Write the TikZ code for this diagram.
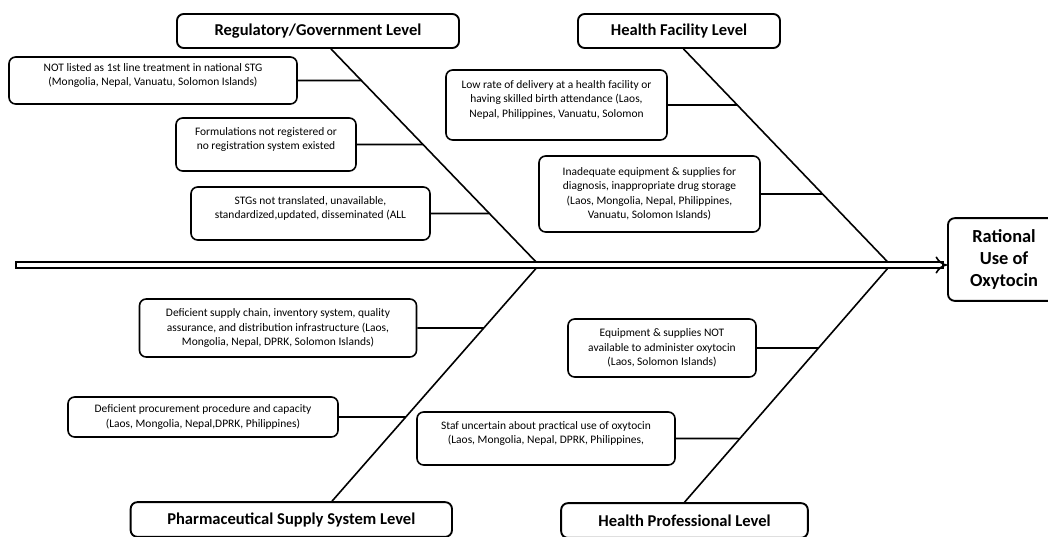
\documentclass[tikz,border=0pt]{standalone}
\usepackage{fontspec}
\setmainfont{Carlito}
\usetikzlibrary{arrows.meta}
\newcommand{\twig}[2]{
\draw[bone] (#1.east) -- (intersection of #1.east--#1.west and #2);
}
\newcommand{\lift}{\rule[-9pt]{0pt}{9pt}}

\begin{document}
\begin{tikzpicture}[x=0.75pt,y=-0.75pt,
	level/.style={draw,line width=1.4pt,rounded corners=5pt,minimum height=25.5pt,font=\bfseries\fontsize{12.4}{15}\selectfont},
	cause/.style={draw,line width=1.2pt,rounded corners=5pt,align=center,font=\fontsize{8.6}{10.8}\selectfont},
	bone/.style={line width=1.2pt},
	spine/.style={double,double distance=3.2pt,line width=1.2pt,line cap=rect,-{Implies[scale=2]}}]
			\useasboundingbox (0,0) rectangle (1048,536);
			
			\node[level,minimum width=211.5pt] (reg) at (318,31) {Regulatory/Government Level};
			\node[level,minimum width=151.5pt] (hfac) at (679,31) {Health Facility Level};
			\node[level,minimum width=241pt,minimum height=26pt] (pharm) at (291.3,519.5) {Pharmaceutical Supply System Level};
			\node[level,minimum width=185pt,minimum height=26pt] (hprof) at (684.5,520.5) {Health Professional Level};
			\node[draw,line width=1.4pt,rounded corners=5pt,align=center,minimum width=84pt,minimum height=62pt,
				font=\bfseries\fontsize{13.8}{16.5}\selectfont] (out) at (1004,259.5) {Rational\\Use of\\Oxytocin};
			
			\node[cause,minimum width=216pt,minimum height=35.25pt] (c1) at (153,80.5) {NOT listed as 1st line treatment in national STG\\(Mongolia, Nepal, Vanuatu, Solomon Islands)\lift};
			\node[cause,minimum width=135pt,minimum height=39.75pt] (c2) at (266,144.5) {Formulations not registered or\\no registration system existed\lift};
			\node[cause,minimum width=179.25pt,minimum height=39.75pt] (c3) at (310.5,213.5) {STGs not translated, unavailable,\\standardized,updated, disseminated (ALL\lift};
			\node[cause,minimum width=165.75pt,minimum height=52.5pt] (c4) at (556.5,105) {Low rate of delivery at a health facility or\\having skilled birth attendance (Laos,\\Nepal, Philippines, Vanuatu, Solomon\lift};
			\node[cause,minimum width=165.75pt,minimum height=57pt] (c5) at (649.5,194) {Inadequate equipment \& supplies for\\diagnosis, inappropriate drug storage\\(Laos, Mongolia, Nepal, Philippines,\\Vanuatu, Solomon Islands)};
			\node[cause,minimum width=207.75pt,minimum height=43.5pt] (c6) at (278,328) {Deficient supply chain, inventory system, quality\\assurance, and distribution infrastructure (Laos,\\Mongolia, Nepal, DPRK, Solomon Islands)};
			\node[cause,minimum width=202.5pt,minimum height=30pt] (c7) at (203,417) {Deficient procurement procedure and capacity\\(Laos, Mongolia, Nepal,DPRK, Philippines)};
			\node[cause,minimum width=141pt,minimum height=43.5pt] (c8) at (662,348) {Equipment \& supplies NOT\\available to administer oxytocin\\(Laos, Solomon Islands)};
			\node[cause,minimum width=193.5pt,minimum height=39.75pt] (c9) at (546,438.5) {Staf uncertain about practical use of oxytocin\\(Laos, Mongolia, Nepal, DPRK, Philippines,\lift};
			
			\coordinate (tail) at (19,265);
			\coordinate (j1) at (539,265);
			\coordinate (j2) at (890.6,265);
			\coordinate (regb) at ([xshift=9.75pt]reg.south);
			\coordinate (hfacb) at ([xshift=3.4pt]hfac.south);
			\coordinate (pharmb) at ([xshift=30.5pt]pharm.north);
			\coordinate (hprofb) at (hprof.north);
			
			\draw[bone] (regb) -- (j1) -- (pharmb);
			\draw[bone] (hfacb) -- (j2) -- (hprofb);
			\draw[spine] (tail) -- (tail -| out.west);
			
			\twig{c1}{regb--j1}
			\twig{c2}{regb--j1}
			\twig{c3}{regb--j1}
			\twig{c4}{hfacb--j2}
			\twig{c5}{hfacb--j2}
			\twig{c6}{pharmb--j1}
			\twig{c7}{pharmb--j1}
			\twig{c8}{hprofb--j2}
			\twig{c9}{hprofb--j2}
\end{tikzpicture}
\end{document}
